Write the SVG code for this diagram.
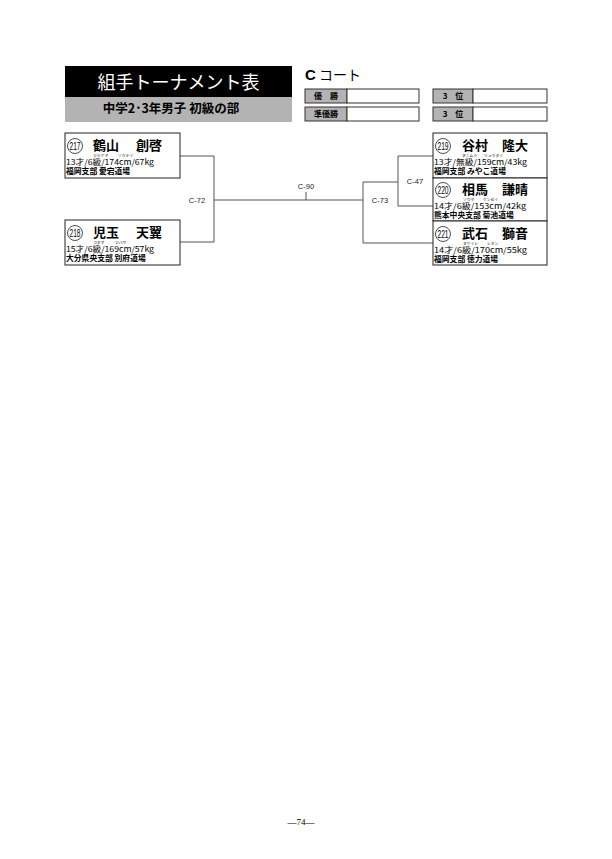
<svg xmlns="http://www.w3.org/2000/svg" width="612" height="859" viewBox="0 0 612 859">
<style>
.jp{font-family:"Noto Sans CJK JP","Noto Sans",sans-serif}
.box{fill:#fff;stroke:#222;stroke-width:1}
.lbl{fill:#b3b3b3;stroke:#333;stroke-width:1}
.res{fill:#fff;stroke:#333;stroke-width:1}
.ln{fill:none;stroke:#555;stroke-width:1}
.num{fill:none;stroke:#222;stroke-width:0.8}
.numt{font-family:"Liberation Sans",sans-serif;font-size:10px}
.name{font-family:"Noto Sans CJK JP",sans-serif;font-size:13px;font-weight:bold}
.kana{font-family:"Noto Sans CJK JP",sans-serif;font-size:3.8px}
.info{font-family:"Noto Sans CJK JP",sans-serif;font-size:8px}
.aff{font-family:"Noto Sans CJK JP",sans-serif;font-size:7.8px;font-weight:bold}
.cl{font-family:"Liberation Sans",sans-serif;font-size:7.5px;text-anchor:middle;fill:#222}
.rl{font-family:"Noto Sans CJK JP",sans-serif;font-size:8px;font-weight:bold}
</style>
<rect width="612" height="859" fill="#fff"/>
<g id="header">
<rect x="65" y="66" width="227" height="31" fill="#000"/>
<text x="178.5" y="89" class="jp" font-size="18" fill="#fff" text-anchor="middle">組手トーナメント表</text>
<rect x="65" y="97" width="227" height="25" fill="#b3b3b3"/>
<text x="171" y="113" class="jp" font-size="12.5" font-weight="bold" text-anchor="middle">中学2･3年男子 初級の部</text>
</g>
<g id="court">
<text x="305" y="80" font-family="'Liberation Sans',sans-serif" font-size="15" font-weight="bold">C</text>
<text x="319" y="80" class="jp" font-size="14">コート</text>
<rect x="305" y="89" width="42" height="14" class="lbl"/><rect x="347" y="89" width="72" height="14" class="res"/>
<text x="326" y="99" class="rl" text-anchor="middle">優　勝</text>
<rect x="305" y="107" width="42" height="14" class="lbl"/><rect x="347" y="107" width="72" height="14" class="res"/>
<text x="326" y="117" class="rl" text-anchor="middle">準優勝</text>
<rect x="433" y="89" width="40" height="14" class="lbl"/><rect x="473" y="89" width="74" height="14" class="res"/>
<text x="453" y="99" class="rl" text-anchor="middle">3　位</text>
<rect x="433" y="107" width="40" height="14" class="lbl"/><rect x="473" y="107" width="74" height="14" class="res"/>
<text x="453" y="117" class="rl" text-anchor="middle">3　位</text>
</g>
<g id="connectors">
<path class="ln" d="M180,156 H214 V242 H180 M214,200 H363 M306,200 V192 M363,182 V243 H433 M363,182 H398 M398,156 V206 H433 M398,156 H433"/>
<text x="197" y="203" class="cl">C-72</text>
<text x="306" y="189" class="cl">C-90</text>
<text x="380" y="203" class="cl">C-73</text>
<text x="415" y="184" class="cl">C-47</text>
</g>
<g id="p217">
<rect x="65" y="133" width="115" height="45" class="box"/>
<circle cx="75" cy="146" r="7.5" class="num"/><text x="69.5" y="149.5" class="numt" textLength="11" lengthAdjust="spacingAndGlyphs">217</text>
<text x="93" y="150" class="name">鶴山</text><text x="136" y="150" class="name">創啓</text>
<text x="93" y="157" class="kana">ツルヤマ</text><text x="118" y="157" class="kana">ソウテイ</text>
<text x="66" y="165" class="info" textLength="88" lengthAdjust="spacingAndGlyphs">13才/6級/174cm/67kg</text>
<text x="66" y="174" class="aff">福岡支部 愛宕道場</text>
</g>
<g id="p218">
<rect x="65" y="220" width="115" height="45" class="box"/>
<circle cx="75" cy="233" r="7.5" class="num"/><text x="69.5" y="236.5" class="numt" textLength="11" lengthAdjust="spacingAndGlyphs">218</text>
<text x="93" y="237" class="name">児玉</text><text x="136" y="237" class="name">天翼</text>
<text x="93" y="244" class="kana">コダマ</text><text x="115" y="244" class="kana">ツバサ</text>
<text x="66" y="252" class="info" textLength="88" lengthAdjust="spacingAndGlyphs">15才/6級/169cm/57kg</text>
<text x="66" y="261" class="aff">大分県央支部 別府道場</text>
</g>
<g id="p219">
<rect x="433" y="133" width="114" height="45" class="box"/>
<circle cx="443" cy="146" r="7.5" class="num"/><text x="437.5" y="149.5" class="numt" textLength="11" lengthAdjust="spacingAndGlyphs">219</text>
<text x="462" y="150" class="name">谷村</text><text x="502" y="150" class="name">隆大</text>
<text x="462" y="157" class="kana">タニムラ</text><text x="484" y="157" class="kana">リュウダイ</text>
<text x="434" y="165" class="info" textLength="93" lengthAdjust="spacingAndGlyphs">13才/無級/159cm/43kg</text>
<text x="434" y="174" class="aff">福岡支部 みやこ道場</text>
</g>
<g id="p220">
<rect x="433" y="178" width="114" height="43" class="box"/>
<circle cx="443" cy="190" r="7.5" class="num"/><text x="437.5" y="193.5" class="numt" textLength="11" lengthAdjust="spacingAndGlyphs">220</text>
<text x="462" y="194" class="name">相馬</text><text x="502" y="194" class="name">謙晴</text>
<text x="463" y="201" class="kana">ソウマ</text><text x="483" y="201" class="kana">ケンセイ</text>
<text x="434" y="209" class="info" textLength="92" lengthAdjust="spacingAndGlyphs">14才/6級/153cm/42kg</text>
<text x="434" y="218" class="aff">熊本中央支部 菊池道場</text>
</g>
<g id="p221">
<rect x="433" y="221" width="114" height="44" class="box"/>
<circle cx="443" cy="234" r="7.5" class="num"/><text x="437.5" y="237.5" class="numt" textLength="11" lengthAdjust="spacingAndGlyphs">221</text>
<text x="462" y="238" class="name">武石</text><text x="502" y="238" class="name">獅音</text>
<text x="463" y="245" class="kana">タケイシ</text><text x="487" y="245" class="kana">レオン</text>
<text x="434" y="253" class="info" textLength="93" lengthAdjust="spacingAndGlyphs">14才/6級/170cm/55kg</text>
<text x="434" y="262" class="aff">福岡支部 徳力道場</text>
</g>
<text x="301" y="825" font-family="'Liberation Serif',serif" font-size="9" text-anchor="middle">—74—</text>
</svg>
